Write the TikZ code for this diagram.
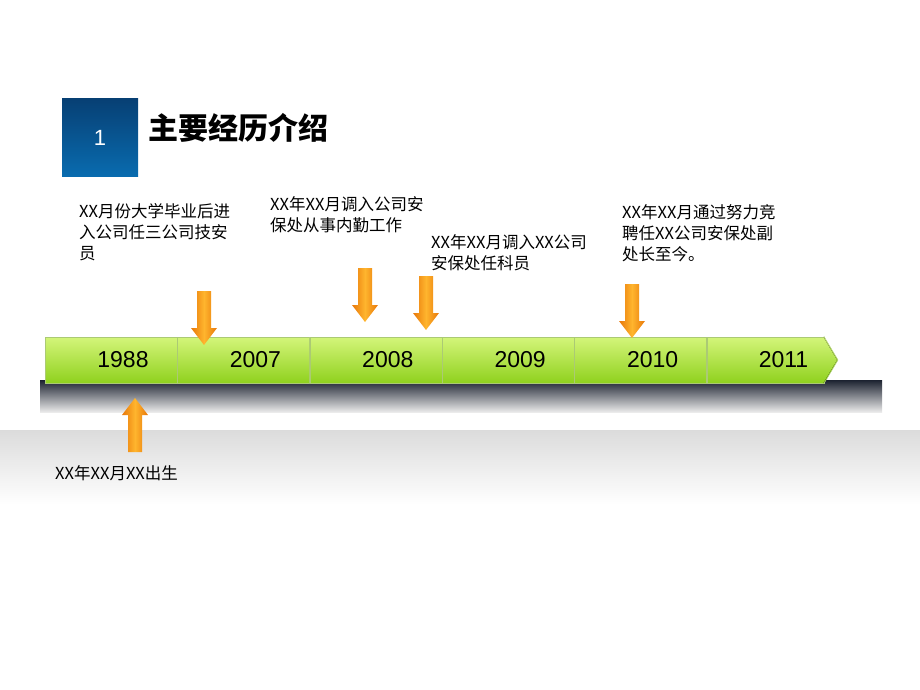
\documentclass[tikz,border=0pt]{standalone}
\usepackage{fontspec}
\setmainfont{Liberation Sans}
\newfontfamily\cjk{Noto Sans CJK SC}
\usetikzlibrary{positioning}
\definecolor{segGreen}{HTML}{8FD11E}
\definecolor{segLight}{HTML}{D4F57A}
\definecolor{boxBlue}{HTML}{0A5BA6}
\definecolor{arrOrange}{HTML}{E8780A}
\definecolor{arrYellow}{HTML}{FFB52E}
\definecolor{barDark}{HTML}{1C2230}
\tikzset{
    yearSeg/.style={draw=segGreen!80!black!60, top color=segLight, bottom color=segGreen, minimum width=132pt, minimum height=46pt, inner sep=0pt},
    yearText/.style={font=\fontsize{23}{23}\selectfont, xshift=12pt},
    noteText/.style={align=left, anchor=north west, inner sep=0pt, font=\cjk\fontsize{16.5}{21}\selectfont},
    orangeArrow/.style={left color=arrOrange, right color=arrOrange, middle color=arrYellow, draw=none}
}
% down arrow with its tip at (#1,#2)
\newcommand{\pointerDown}[2]{
    \path[orangeArrow] (#1-7,#2-54) -- (#1+7,#2-54) -- (#1+7,#2-17) -- (#1+13,#2-17)
        -- (#1,#2) -- (#1-13,#2-17) -- (#1-7,#2-17) -- cycle;
}
\begin{document}
\begin{tikzpicture}[x=1pt, y=-1pt]
    \useasboundingbox (0,0) rectangle (920,690);
    % background bands
    \fill[top color=black!14, bottom color=white] (0,430) rectangle (920,505);
    \fill[top color=barDark, bottom color=black!8] (40,380) rectangle (882,412);

    % header
    \node[minimum width=76pt, minimum height=77pt, inner sep=0pt, top color=boxBlue!70!black, bottom color=boxBlue!90!cyan, text=white, font=\fontsize{22}{22}\selectfont] (num) at (100,137.5) {1};
    \node[right=10pt of num, inner sep=0pt, font=\cjk\bfseries\fontsize{30}{30}\selectfont, yshift=10pt] (title) {主要经历介绍};

    % timeline
    \node[yearSeg] (y1988) at (111,360) {};
    \node[yearSeg, right=0pt of y1988] (y2007) {};
    \node[yearSeg, right=0pt of y2007] (y2008) {};
    \node[yearSeg, right=0pt of y2008] (y2009) {};
    \node[yearSeg, right=0pt of y2009] (y2010) {};
    \node[yearSeg, right=0pt of y2010, minimum width=117pt] (y2011) {};
    \path[yearSeg] (y2011.north east) -- (838,360) -- (y2011.south east) -- cycle;
    \fill[top color=segLight, bottom color=segGreen] ([xshift=-1pt]y2011.north east) -- (837,360) -- ([xshift=-1pt]y2011.south east) -- cycle;
    \foreach \yr in {1988,2007,2008,2009,2010}
        \node[yearText] at (y\yr.center) {\yr};
    \node[yearText, xshift=6pt] at (y2011.center) {2011};

    % pointers
    \pointerDown{204}{345}
    \pointerDown{365}{322}
    \pointerDown{426}{330}
    \pointerDown{632}{338}
    \path[orangeArrow] (128,452) -- (142,452) -- (142,415) -- (148,415) -- (135,398)
        -- (122,415) -- (128,415) -- cycle;

    % notes
    \node[noteText] (n1) at (79,203) {XX月份大学毕业后进\\入公司任三公司技安\\员};
    \node[noteText] (n2) at (270,196) {XX年XX月调入公司安\\保处从事内勤工作};
    \node[noteText] (n3) at (431,234) {XX年XX月调入XX公司\\安保处任科员};
    \node[noteText] (n4) at (622,204) {XX年XX月通过努力竞\\聘任XX公司安保处副\\处长至今。};
    \node[noteText] (n0) at (55,465) {XX年XX月XX出生};
\end{tikzpicture}
\end{document}
